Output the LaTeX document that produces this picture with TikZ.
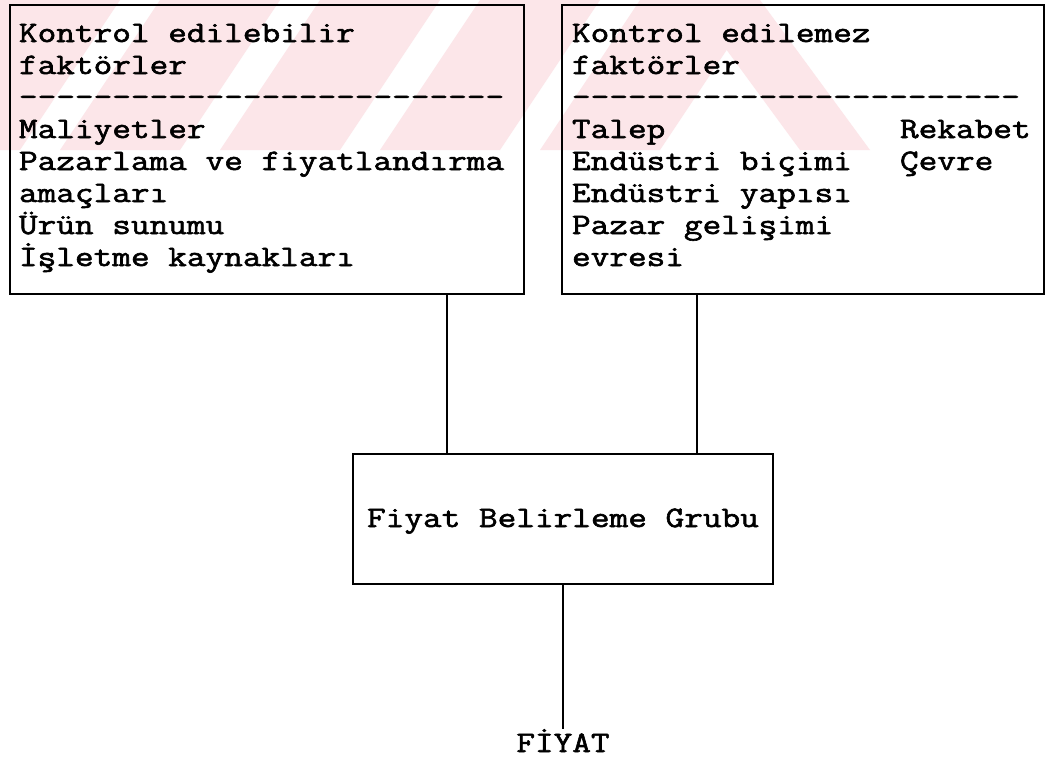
\documentclass[tikz,border=0pt]{standalone}
\usepackage{fontspec}
\setmonofont{Latin Modern Mono}[FakeStretch=1.22, FakeBold=2]
\definecolor{wm}{HTML}{FCE6E9}
\begin{document}
\begin{tikzpicture}[x=1pt,y=-1pt,
  box/.style={draw, line width=2.5pt, inner sep=0pt, outer sep=0pt},
  txt/.style={anchor=base west, inner sep=0pt, outer sep=0pt,
    font=\ttfamily\fontsize{29.7}{32}\selectfont},
  ctxt/.style={txt, anchor=base},
  conn/.style={line width=2.4pt}]
\useasboundingbox (0,0) rectangle (1048,758);
\fill[white] (0,0) rectangle (1048,758);
% faint watermark band
\begin{scope}
\clip (0,0) rectangle (870,150);
\foreach \x in {-100,60,220,380,540}{
  \fill[wm] (\x,150) -- (\x+120,150) -- (\x+220,0) -- (\x+100,0) -- cycle;
}
\fill[wm] (690,0) -- (760,0) -- (870,150) -- (800,150) -- cycle;
\end{scope}
% boxes
\node[box, minimum width=514pt, minimum height=289pt] (L) at (267,149.5) {};
\node[box, minimum width=482pt, minimum height=289pt] (R) at (803,149.5) {};
\node[box, minimum width=420pt, minimum height=130pt] (M) at (563,519) {};
% left box text
\node[txt] (l1) at (19,42)  {Kontrol edilebilir};
\node[txt] (l2) at (19,74)  {faktörler};
\node[txt] (l3) at (19,106) {--------------------------};
\node[txt] (l4) at (19,138) {Maliyetler};
\node[txt] (l5) at (19,170) {Pazarlama ve fiyatlandırma};
\node[txt] (l6) at (19,202) {amaçları};
\node[txt] (l7) at (19,234) {Ürün sunumu};
\node[txt] (l8) at (19,266) {İşletme kaynakları};
% right box text
\node[txt] (r1) at (572,42)  {Kontrol edilemez};
\node[txt] (r2) at (572,74)  {faktörler};
\node[txt] (r3) at (572,106) {------------------------};
\node[txt] (r4) at (572,138) {Talep};
\node[txt] (r5) at (572,170) {Endüstri biçimi};
\node[txt] (r6) at (572,202) {Endüstri yapısı};
\node[txt] (r7) at (572,234) {Pazar gelişimi};
\node[txt] (r8) at (572,266) {evresi};
\node[txt] (r9) at (900,138) {Rekabet};
\node[txt] (r10) at (900,170) {Çevre};
% middle text
\node[ctxt] (mt) at (563,527) {Fiyat Belirleme Grubu};
% output
\node[ctxt] (F) at (563,752) {FİYAT};
% connectors
\coordinate (lx) at (447,0);
\coordinate (rx) at (697,0);
\draw[conn] (lx |- L.south) -- (lx |- M.north);
\draw[conn] (rx |- R.south) -- (rx |- M.north);
\draw[conn] (M.south) -- (F.north);
\end{tikzpicture}
\end{document}
